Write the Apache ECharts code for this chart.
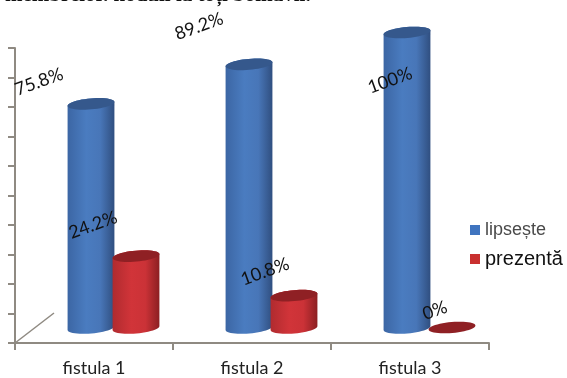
<!DOCTYPE html>
<html>
<head>
<meta charset="utf-8">
<style>
  html, body { margin: 0; padding: 0; background: #fff; }
  #chart { width: 567px; height: 378px; }
</style>
<script src="https://cdn.jsdelivr.net/npm/echarts@6/dist/echarts.min.js"></script>
</head>
<body>
<div id="chart"></div>
<script>
const categories = ['fistula 1', 'fistula 2', 'fistula 3'];
const lipseste = [75.8, 89.2, 100];
const prezenta = [24.2, 10.8, 0];
const seriesNames = ['lipsește', 'prezentă'];

// Hand-placed value labels: pixel shift from the top centre of each cylinder
const lipsesteLabelShift = [[-52, -22], [-50, -38], [-17, 48]];
const prezentaLabelShift = [[-43, -31], [-29, -24], [-17, -17]];

// Oblique projection of the 3D floor: columns stand this far behind the front axis
const DEPTH_X = 19.5;
const DEPTH_Y = -15;
const COLUMN_WIDTH = 47;
const RX = COLUMN_WIDTH / 2;
const RY = 5.5;
const TILT = -5 * Math.PI / 180;

const palette = {
  blue: { side: ['#3c66a4', '#4a7cc0', '#4876b8', '#304f80'], top: '#35588c', legend: '#3f74bf' },
  red: { side: ['#b02b2f', '#d13439', '#cb3237', '#8c1f22'], top: '#8f2024', legend: '#c9302f' }
};

// Point on a slightly tilted ellipse centred on (cx, cy)
function rim(cx, cy, angle) {
  const x = RX * Math.cos(angle);
  const y = RY * Math.sin(angle);
  return [cx + x * Math.cos(TILT) - y * Math.sin(TILT), cy + x * Math.sin(TILT) + y * Math.cos(TILT)];
}

function rimPolygon(cx, cy) {
  const pts = [];
  for (let i = 0; i < 48; i++) pts.push(rim(cx, cy, i / 48 * Math.PI * 2));
  return pts;
}

// Column outline: the lower half of the base rim, then the lower half of the top rim reversed
function bodyPolygon(cx, baseY, topY) {
  const pts = [];
  for (let i = 0; i <= 24; i++) pts.push(rim(cx, baseY, i / 24 * Math.PI));
  for (let i = 0; i <= 24; i++) pts.push(rim(cx, topY, Math.PI + i / 24 * Math.PI));
  return pts;
}

function cylinderSeries(name, values, colors, side, shifts) {
  return {
    type: 'custom',
    name: name,
    data: values.map((v, i) => [i, v]),
    itemStyle: { color: colors.legend },
    z: side > 0 ? 3 : 2,
    clip: false,
    encode: { x: 0, y: 1 },
    renderItem(params, api) {
      const i = api.value(0);
      const v = api.value(1);
      const [bx, by] = api.coord([i, 0]);
      const [, ty] = api.coord([i, v]);
      const cx = bx + DEPTH_X + side * (COLUMN_WIDTH / 2 - 1);
      const baseY = by + DEPTH_Y;
      const topY = ty + DEPTH_Y - 0.5;
      const gradient = new echarts.graphic.LinearGradient(0, 0, 1, 0, [
        { offset: 0, color: colors.side[0] },
        { offset: 0.4, color: colors.side[1] },
        { offset: 0.7, color: colors.side[2] },
        { offset: 1, color: colors.side[3] }
      ]);
      const children = [];
      if (v > 0) {
        children.push({
          type: 'polygon',
          shape: { points: bodyPolygon(cx, baseY, topY) },
          style: { fill: gradient }
        });
      }
      children.push({
        type: 'polygon',
        shape: { points: rimPolygon(cx, topY) },
        style: { fill: colors.top }
      });
      children.push({
        type: 'text',
        z2: 20,
        x: cx + shifts[i][0],
        y: topY + shifts[i][1],
        rotation: 20 * Math.PI / 180,
        style: {
          text: v + '%',
          fill: '#111',
          font: '18px Lato',
          align: 'center',
          verticalAlign: 'middle'
        }
      });
      return { type: 'group', children: children };
    }
  };
}

// Receding floor edge rising from the axes' origin
const floorEdge = {
  type: 'custom',
  silent: true,
  data: [[0, 0]],
  encode: { x: 0, y: 1 },
  clip: false,
  z: 1,
  renderItem(params) {
    const g = params.coordSys;
    const x0 = g.x;
    const y0 = g.y + g.height;
    return {
      type: 'line',
      shape: { x1: x0, y1: y0, x2: x0 + 2 * DEPTH_X, y2: y0 + 2 * DEPTH_Y },
      style: { stroke: '#8f8a82', lineWidth: 1.5 }
    };
  }
};

const chart = echarts.init(document.getElementById('chart'), null, { renderer: 'canvas' });
chart.setOption({
  animation: false,
  backgroundColor: '#fff',
  grid: { left: 15, top: 48, width: 474, height: 295, containLabel: false },
  xAxis: {
    type: 'category',
    data: categories,
    axisLine: { lineStyle: { color: '#8f8a82', width: 2 } },
    axisTick: { show: true, alignWithLabel: false, length: 7, lineStyle: { color: '#8f8a82', width: 2 } },
    axisLabel: { color: '#222', fontFamily: 'Lato', fontSize: 18, margin: 16 }
  },
  yAxis: {
    type: 'value',
    min: 0,
    max: 100,
    interval: 10,
    axisLine: { show: true, lineStyle: { color: '#8f8a82', width: 2 } },
    axisTick: { show: true, length: 7, lineStyle: { color: '#8f8a82', width: 2 } },
    axisLabel: { show: false },
    splitLine: { show: false }
  },
  legend: {
    left: 465,
    top: 216,
    orient: 'vertical',
    itemWidth: 10,
    itemHeight: 10,
    itemGap: 10,
    icon: 'rect',
    textStyle: { fontFamily: 'Liberation Sans', fontSize: 18 },
    data: [
      { name: seriesNames[0], textStyle: { color: '#4a4a4a', fontSize: 18 } },
      { name: seriesNames[1], textStyle: { color: '#111', fontSize: 20 } }
    ]
  },
  graphic: [{
    type: 'text',
    x: 5,
    y: 6,
    style: {
      text: 'membrelor. noduli la toți bolnavii.',
      fill: '#111',
      font: 'bold 21px "Liberation Serif"',
      verticalAlign: 'bottom'
    }
  }],
  series: [
    floorEdge,
    cylinderSeries(seriesNames[0], lipseste, palette.blue, -1, lipsesteLabelShift),
    cylinderSeries(seriesNames[1], prezenta, palette.red, 1, prezentaLabelShift)
  ]
});
</script>
</body>
</html>
